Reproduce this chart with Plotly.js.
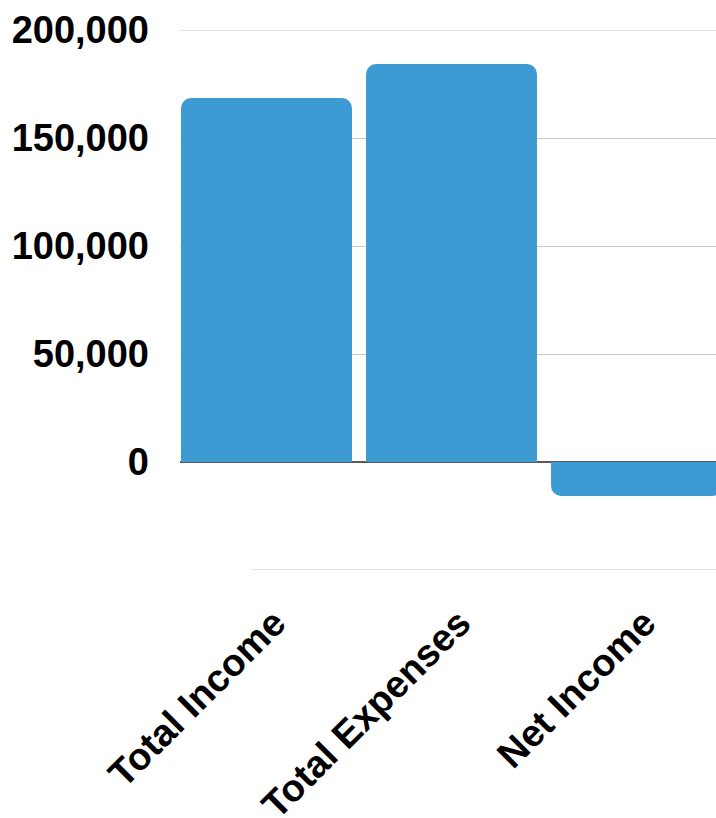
<!DOCTYPE html>
<html>
<head>
<meta charset="utf-8">
<script src="https://cdn.plot.ly/plotly-3.0.1.min.js"></script>
<style>html,body{margin:0;padding:0;background:#fff;}#chart{width:716px;height:818px;}</style>
</head>
<body>
<div id="chart"></div>
<script>
const categories = ["Total Income", "Total Expenses", "Net Income"];
const values = [168500, 184250, -15750];
const yTickVals = [0, 50000, 100000, 150000, 200000];
const yTickText = ["0", "50,000", "100,000", "150,000", "200,000"];

const fontFamily = "Liberation Sans, Arial, sans-serif";

const trace = {
  type: "bar",
  x: categories,
  y: values,
  marker: { color: "#3d9ad2", cornerradius: 10, line: { width: 0 } },
  width: 0.924,
  hoverinfo: "none"
};

const layout = {
  width: 716,
  height: 818,
  margin: { l: 180, r: 0, t: 30, b: 248, pad: 0 },
  paper_bgcolor: "#ffffff",
  plot_bgcolor: "#ffffff",
  showlegend: false,
  font: { family: fontFamily, color: "#000000", size: 38, weight: "bold" },
  xaxis: {
    type: "category",
    range: [-0.4676, 2.4297],
    tickangle: -45,
    showgrid: false,
    zeroline: false,
    showline: false,
    ticks: "",
    ticklabelstandoff: 22,
    ticklabelshift: 8,
    tickfont: { family: fontFamily, size: 38, color: "#000000", weight: "bold" },
    fixedrange: true
  },
  yaxis: {
    range: [-50000, 200000],
    tickvals: yTickVals,
    ticktext: yTickText,
    showgrid: true,
    gridcolor: "#c8c8c8",
    gridwidth: 1,
    zeroline: true,
    zerolinecolor: "#5a5a5a",
    zerolinewidth: 1.5,
    showline: false,
    ticks: "",
    ticklabelstandoff: 30,
    tickfont: { family: fontFamily, size: 38, color: "#000000", weight: "bold" },
    fixedrange: true
  },
  shapes: [
    {
      type: "line",
      xref: "paper", yref: "y",
      x0: 0.134, x1: 1, y0: -50000, y1: -50000,
      line: { color: "#c8c8c8", width: 1 },
      layer: "below"
    },
    {
      type: "line",
      xref: "paper", yref: "y",
      x0: 0, x1: 1, y0: 200000, y1: 200000,
      line: { color: "#c8c8c8", width: 1 },
      layer: "below"
    }
  ]
};

Plotly.newPlot("chart", [trace], layout, { displayModeBar: false, staticPlot: true });
</script>
</body>
</html>
